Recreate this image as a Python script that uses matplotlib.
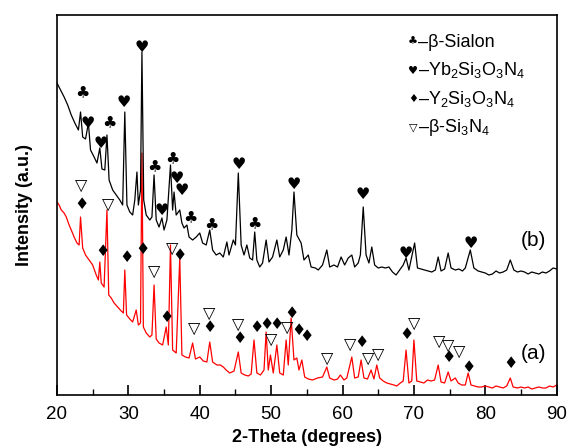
import matplotlib

matplotlib.use("Agg")

import matplotlib.pyplot as plt

plt.rcParams["font.family"] = ["Liberation Sans", "DejaVu Sans"]
plt.rcParams["mathtext.fontset"] = "custom"
plt.rcParams["mathtext.rm"] = "Liberation Sans"
plt.rcParams["mathtext.it"] = "Liberation Sans"

# pattern (b): 2-theta and intensity (a.u.)
theta_b = [
    20.0, 20.5, 21.0, 21.5, 22.0, 22.5, 23.0, 23.3, 23.6, 24.0, 24.4, 24.7,
    25.2, 25.6, 26.0, 26.3, 26.7, 27.0, 27.3, 27.8, 28.3, 28.8, 29.2, 29.5,
    29.8, 30.2, 30.6, 30.9, 31.2, 31.4, 31.7, 31.9, 32.15, 32.5, 33.0, 33.3,
    33.6, 33.9, 34.3, 34.7, 35.0, 35.4, 35.9, 36.2, 36.4, 36.7, 37.2, 37.5,
    37.8, 38.2, 38.5, 39.0, 39.5, 40.0, 40.4, 40.9, 41.4, 41.8, 42.3, 42.8,
    43.3, 43.8, 44.1, 44.7, 45.0, 45.4, 45.8, 46.2, 46.6, 47.0, 47.4, 47.7,
    48.0, 48.4, 48.8, 49.3, 49.7, 50.2, 50.8, 51.2, 51.7, 52.1, 52.5, 52.9,
    53.2, 53.6, 54.2, 54.6, 55.2, 55.6, 56.2, 56.6, 57.2, 57.8, 58.2, 58.8,
    59.3, 59.8, 60.3, 60.8, 61.3, 61.7, 62.2, 62.5, 62.9, 63.3, 63.7, 64.1,
    64.5, 65.0, 65.5, 66.0, 66.5, 67.0, 67.5, 68.0, 68.5, 68.9, 69.3, 70.1,
    70.5, 71.0, 71.5, 72.0, 72.5, 73.0, 73.4, 73.8, 74.3, 74.8, 75.2, 75.8,
    76.3, 76.8, 77.2, 77.9, 78.4, 79.0, 79.5, 80.0, 80.5, 81.0, 81.5, 82.0,
    82.5, 83.0, 83.5, 84.0, 84.5, 85.0, 85.5, 86.0, 86.5, 87.0, 87.5, 88.0,
    88.5, 89.0, 89.5, 90.0,
]
intensity_b = [
    312, 305, 298, 290, 280, 272, 265, 283, 258, 256, 272, 245,
    238, 232, 247, 226, 225, 260, 215, 205, 200, 195, 190, 283,
    190, 183, 180, 195, 223, 190, 205, 343, 195, 180, 175, 178,
    220, 175, 168, 177, 165, 175, 230, 185, 203, 180, 185, 172,
    167, 170, 158, 155, 158, 162, 152, 150, 165, 145, 140, 142,
    138, 153, 140, 155, 150, 222, 150, 140, 150, 137, 135, 163,
    135, 128, 132, 155, 133, 138, 155, 138, 145, 158, 140, 165,
    203, 160, 152, 135, 140, 128, 127, 125, 130, 145, 128, 130,
    128, 138, 130, 137, 140, 128, 132, 140, 188, 140, 132, 148,
    130, 127, 128, 127, 128, 123, 120, 125, 130, 137, 125, 152,
    127, 126, 125, 124, 123, 125, 138, 124, 126, 142, 127, 125,
    126, 124, 127, 145, 127, 124, 123, 122, 120, 121, 124, 122,
    123, 125, 135, 125, 123, 124, 123, 121, 123, 122, 121, 123,
    122, 124, 127, 126,
]

# pattern (a)
theta_a = [
    20.0, 20.3, 20.6, 21.0, 21.3, 21.7, 22.0, 22.4, 22.8, 23.1, 23.3, 23.6,
    24.0, 24.5, 25.0, 25.5, 25.8, 26.0, 26.2, 26.6, 27.0, 27.25, 27.6, 28.0,
    28.5, 29.0, 29.3, 29.5, 29.75, 30.2, 30.6, 31.1, 31.4, 31.7, 31.9, 32.1,
    32.5, 33.0, 33.3, 33.6, 33.9, 34.3, 34.8, 35.3, 35.6, 35.9, 36.2, 36.7,
    37.2, 37.5, 38.0, 38.5, 39.0, 39.4, 40.0, 40.5, 41.0, 41.4, 41.8, 42.4,
    42.9, 43.3, 43.7, 44.2, 44.8, 45.4, 45.8, 46.3, 46.8, 47.2, 47.6, 48.0,
    48.5, 49.0, 49.3, 49.6, 49.9, 50.3, 50.8, 51.2, 51.7, 52.1, 52.4, 52.8,
    53.2, 53.6, 53.9, 54.3, 54.7, 55.2, 55.8, 56.5, 57.2, 57.8, 58.2, 58.8,
    59.3, 59.7, 60.2, 60.6, 61.3, 61.7, 62.2, 62.6, 63.0, 63.5, 64.0, 64.4,
    64.8, 65.2, 65.7, 66.2, 66.7, 67.2, 67.6, 68.1, 68.5, 68.9, 69.3, 69.7,
    70.0, 70.4, 70.9, 71.4, 71.9, 72.4, 72.9, 73.4, 73.8, 74.3, 74.8, 75.2,
    75.8, 76.2, 76.7, 77.2, 77.6, 78.0, 78.5, 79.0, 79.5, 80.0, 80.5, 81.0,
    81.5, 82.0, 82.5, 83.0, 83.5, 83.9, 84.5, 85.0, 85.5, 86.0, 86.5, 87.0,
    87.5, 88.0, 88.5, 89.0, 89.5, 90.0,
]
intensity_a = [
    193, 190, 185, 182, 178, 170, 165, 158, 152, 150, 178, 147,
    140, 135, 130, 120, 115, 133, 112, 108, 185, 100, 97, 92,
    88, 84, 82, 125, 80, 76, 73, 85, 70, 72, 242, 68,
    62, 58, 60, 110, 56, 52, 50, 68, 50, 150, 45, 42,
    137, 40, 38, 37, 52, 36, 38, 34, 33, 53, 33, 30,
    30, 28, 25, 22, 24, 43, 22, 20, 19, 21, 55, 22,
    20, 25, 63, 25, 40, 22, 50, 22, 20, 55, 30, 77,
    35, 37, 25, 35, 18, 16, 15, 17, 18, 28, 17, 15,
    16, 20, 15, 17, 38, 17, 18, 35, 17, 16, 25, 16,
    30, 17, 14, 12, 11, 10, 9, 12, 14, 45, 12, 14,
    55, 14, 13, 12, 15, 14, 15, 30, 13, 12, 23, 14,
    17, 12, 10, 10, 22, 10, 9, 8, 8, 9, 8, 7,
    9, 8, 7, 9, 17, 8, 7, 8, 7, 8, 6, 7,
    8, 7, 7, 9, 8, 10,
]

# phase markers: (2-theta, height) where each symbol sits
sialon_b = [(23.5, 302), (27.3, 272), (33.7, 228), (36.1, 236), (38.7, 177),
            (41.6, 170), (47.7, 171)]
yb_b = [(24.3, 272), (26.2, 252), (29.4, 293), (31.9, 348), (34.7, 185),
        (36.8, 217), (37.5, 205), (45.4, 231), (53.2, 211), (62.9, 201),
        (68.9, 142), (77.9, 152)]
y_a = [(23.4, 191), (26.4, 144), (29.7, 138), (32.0, 146), (35.4, 78),
       (37.2, 140), (41.4, 68), (45.5, 57), (47.9, 68), (49.4, 71),
       (50.7, 71), (52.9, 82), (53.8, 65), (54.9, 59), (62.6, 53),
       (68.9, 61), (74.8, 38), (77.7, 28), (83.6, 32)]
si3n4_a = [(23.4, 210), (27.1, 191), (33.6, 124), (36.1, 147), (39.2, 67),
           (41.3, 82), (45.4, 71), (50.0, 56), (52.2, 68), (57.8, 37),
           (61.0, 51), (63.6, 37), (65.0, 41), (70.0, 72), (73.5, 54),
           (74.8, 50), (76.3, 44)]

legend_rows = [
    ("\u2663", "\u2013\u03b2-Sialon"),
    ("\u2665", "\u2013Yb$_2$Si$_3$O$_3$N$_4$"),
    ("\u2666", "\u2013Y$_2$Si$_3$O$_3$N$_4$"),
    ("\u25bd", "\u2013\u03b2-Si$_3$N$_4$"),
]

fig = plt.figure(figsize=(5.67, 4.48), dpi=100)
ax = fig.add_axes([0.1005, 0.1183, 0.8813, 0.8482])

ax.plot(theta_a, intensity_a, color="red", linewidth=0.9)
ax.plot(theta_b, intensity_b, color="black", linewidth=0.9)

sym = dict(ha="center", va="center", family="DejaVu Sans", fontsize=11.5)
for glyph, points in (("\u2663", sialon_b), ("\u2665", yb_b),
                      ("\u2666", y_a), ("\u25bd", si3n4_a)):
    for x, y in points:
        ax.text(x, y, glyph, **sym)

ax.text(86.7, 155, "(b)", fontsize=15, ha="center", va="center")
ax.text(86.7, 42, "(a)", fontsize=15, ha="center", va="center")

for i, (glyph, label) in enumerate(legend_rows):
    yb = 0.916 - i * 0.075
    ax.text(0.712, yb + 0.012, glyph, transform=ax.transAxes, family="DejaVu Sans",
            fontsize=8, ha="center", va="center")
    ax.text(0.722, yb, label, transform=ax.transAxes, fontsize=13,
            ha="left", va="baseline")

ax.set_xlim(20, 90)
ax.set_ylim(0, 380)
ax.set_xticks(range(20, 91, 10))
ax.set_xticks(range(25, 90, 10), minor=True)
ax.tick_params(axis="x", which="major", direction="in", length=7, width=1.2,
               labelsize=13.5, pad=8)
ax.tick_params(axis="x", which="minor", direction="in", length=4, width=1.0)
ax.set_yticks([])
for spine in ax.spines.values():
    spine.set_linewidth(1.2)

ax.set_xlabel("2-Theta (degrees)", fontsize=13, fontweight="bold", labelpad=4)
ax.set_ylabel("Intensity (a.u.)", fontsize=13, fontweight="bold", labelpad=17)

fig.savefig("out.png", dpi=100)
